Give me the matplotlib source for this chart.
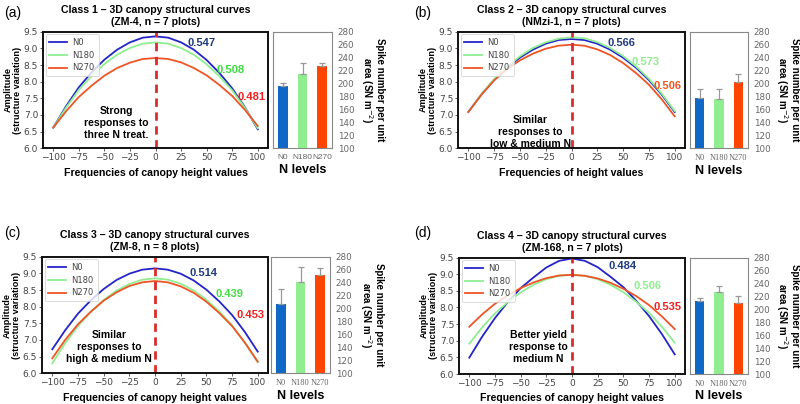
import matplotlib
matplotlib.use('Agg')
import matplotlib.pyplot as plt
from matplotlib.ticker import MultipleLocator, FormatStrFormatter

# frequencies of canopy height values (x of the structural curves)
freq = [-100, -87.5, -75, -62.5, -50, -37.5, -25, -12.5, 0,
        12.5, 25, 37.5, 50, 62.5, 75, 87.5, 100]
levels = ['N0', 'N180', 'N270']

# class 1, ZM-4
a_n0 = [6.62, 7.26, 7.83, 8.28, 8.66, 8.96, 9.18, 9.32, 9.36, 9.32, 9.18, 8.96, 8.65, 8.26, 7.80, 7.23, 6.57]
a_n180 = [6.62, 7.22, 7.75, 8.17, 8.53, 8.81, 9.01, 9.14, 9.18, 9.14, 9.01, 8.81, 8.52, 8.16, 7.74, 7.21, 6.60]
a_n270 = [6.62, 7.11, 7.54, 7.88, 8.18, 8.41, 8.57, 8.68, 8.71, 8.68, 8.58, 8.41, 8.19, 7.90, 7.57, 7.15, 6.67]
a_spike = [196, 214, 227]
a_err = [5, 18, 5]
a_coef = ['0.547', '0.508', '0.481']

# class 2, NMzi-1
b_n0 = [7.09, 7.61, 8.05, 8.42, 8.72, 8.96, 9.14, 9.25, 9.28, 9.25, 9.14, 8.96, 8.72, 8.42, 8.05, 7.61, 7.09]
b_n180 = [7.09, 7.62, 8.08, 8.45, 8.76, 9.01, 9.18, 9.29, 9.33, 9.30, 9.19, 9.01, 8.77, 8.46, 8.09, 7.64, 7.12]
b_n270 = [7.09, 7.60, 8.04, 8.38, 8.64, 8.84, 8.99, 9.08, 9.11, 9.08, 8.97, 8.80, 8.56, 8.26, 7.91, 7.47, 6.96]
b_spike = [177, 176, 202]
b_err = [15, 16, 13]
b_coef = ['0.566', '0.573', '0.506']

# class 3, ZM-8
c_n0 = [6.72, 7.29, 7.79, 8.19, 8.53, 8.80, 8.99, 9.11, 9.15, 9.11, 8.99, 8.79, 8.51, 8.16, 7.75, 7.24, 6.65]
c_n180 = [6.30, 6.90, 7.42, 7.84, 8.20, 8.48, 8.68, 8.81, 8.85, 8.81, 8.69, 8.49, 8.21, 7.86, 7.44, 6.92, 6.33]
c_n270 = [6.45, 7.00, 7.47, 7.85, 8.18, 8.43, 8.62, 8.73, 8.77, 8.73, 8.61, 8.42, 8.15, 7.81, 7.42, 6.92, 6.35]
c_spike = [207, 241, 251]
c_err = [23, 23, 11]
c_coef = ['0.514', '0.439', '0.453']

# class 4, ZM-168
d_n0 = [6.49, 7.12, 7.68, 8.16, 8.58, 8.90, 9.20, 9.40, 9.47, 9.40, 9.21, 8.92, 8.61, 8.20, 7.74, 7.20, 6.59]
d_n180 = [6.91, 7.40, 7.82, 8.16, 8.45, 8.68, 8.85, 8.95, 8.98, 8.95, 8.85, 8.68, 8.46, 8.17, 7.84, 7.42, 6.94]
d_n270 = [7.42, 7.79, 8.11, 8.36, 8.58, 8.75, 8.88, 8.96, 8.98, 8.95, 8.87, 8.74, 8.56, 8.34, 8.07, 7.73, 7.35]
d_spike = [213, 227, 209]
d_err = [5, 9, 11]
d_coef = ['0.484', '0.506', '0.535']

line_colors = ['#2424c8', '#90ee90', '#ee5526']
bar_colors = ['#1068c6', '#90ee90', '#ff4500']
navy = '#1f3a7e'
SANS = ['Liberation Sans', 'DejaVu Sans']

W, H = 800, 404


def rect(l, r, t, b):
    return [l / W, 1 - b / H, (r - l) / W, (b - t) / H]


def panel(fig, main_box, bar_box, curves, spike, err, coefs, coef_pos, coef_colors,
          title, xlabel, note, note_pos, letter, letter_xy, serif, spike_label_x):
    ax = fig.add_axes(rect(*main_box))
    for ys, lab, col in zip(curves, levels, line_colors):
        ax.plot(freq, ys, color=col, lw=1.3, label=lab)
    ax.axvline(0, color='#dd2a2a', ls=(0, (3, 2)), lw=2)
    ax.set_xlim(-110, 110)
    ax.set_ylim(6.0, 9.5)
    ax.xaxis.set_major_locator(MultipleLocator(25))
    ax.yaxis.set_major_locator(MultipleLocator(0.5))
    ax.yaxis.set_major_formatter(FormatStrFormatter('%.1f'))
    ax.tick_params(labelsize=6.5, colors='#444444', length=2, width=0.6, pad=1.5)
    for s in ax.spines.values():
        s.set_linewidth(1.4)
        s.set_color('#111111')
    leg = ax.legend(loc='upper left', fontsize=6.0, frameon=True, handlelength=2.1,
                    borderpad=0.45, labelspacing=0.45, fancybox=True,
                    borderaxespad=0.3, handletextpad=0.7)
    leg.get_frame().set_edgecolor('#cccccc')
    leg.get_frame().set_linewidth(0.6)
    for t in leg.get_texts():
        t.set_color('#444444')
    for txt, (x, y), col in zip(coefs, coef_pos, coef_colors):
        ax.text(x, y, txt, color=col, fontsize=8, fontweight='bold', family=SANS,
                ha='center', va='center')
    ax.text(note_pos[0], note_pos[1], note, fontsize=7.5, fontweight='bold', family=SANS,
            ha='center', va='center', linespacing=1.25)
    ax.set_title(title, fontsize=7.6, fontweight='bold', family=SANS, pad=5,
                 linespacing=1.2)
    ax.set_xlabel(xlabel, fontsize=7.6, fontweight='bold', family=SANS, labelpad=4)
    ax.set_ylabel('Amplitude\n(structure variation)', fontsize=6.6, fontweight='bold',
                  family=SANS, labelpad=1.5, linespacing=1.05)

    bx = fig.add_axes(rect(*bar_box))
    pos = range(len(levels))
    bx.bar(pos, spike, width=0.48, color=bar_colors,
           yerr=[[0, 0, 0], err], ecolor='#999999', capsize=2,
           error_kw={'elinewidth': 0.9, 'capthick': 0.9})
    bx.set_xlim(-0.5, 2.5)
    bx.set_ylim(100, 280)
    bx.yaxis.set_major_locator(MultipleLocator(20))
    bx.yaxis.tick_right()
    bx.set_xticks(list(pos))
    bx.set_xticklabels(levels, family=['Liberation Serif'] if serif else SANS,
                       fontsize=6, color='#666666')
    bx.tick_params(axis='y', labelsize=6.3, colors='#666666', length=0, pad=4)
    bx.tick_params(axis='x', length=0, pad=4)
    for s in bx.spines.values():
        s.set_linewidth(0.8)
        s.set_color('#888888')
    bx.set_xlabel('N levels', fontsize=9, fontweight='bold', family=SANS, labelpad=2)

    yc = (bar_box[2] + bar_box[3]) / 2
    fig.text(spike_label_x / W, 1 - yc / H, 'Spike number per unit\narea (SN m$^{-2}$)',
             fontsize=7.0, fontweight='bold', family=SANS, rotation=270,
             ha='center', va='center', linespacing=1.1)

    fig.text(letter_xy[0] / W, 1 - letter_xy[1] / H, letter, fontsize=10,
             family=SANS, ha='left', va='center')


fig = plt.figure(figsize=(8, 4.04), dpi=100)

panel(fig, (43, 268, 31.7, 148.3), (273, 332, 31.7, 148.3),
      [a_n0, a_n180, a_n270], a_spike, a_err, a_coef,
      [(45, 9.17), (73, 8.35), (94, 7.55)], [navy, '#3ddc3d', '#ee2020'],
      'Class 1 \u2013 3D canopy structural curves\n(ZM-4, n = 7 plots)',
      'Frequencies of canopy height values',
      'Strong\nresponses to\nthree N treat.', (-38, 6.76), '(a)', (4, 13), False, 372)

panel(fig, (458, 685, 31.7, 148.3), (690, 748, 31.7, 148.3),
      [b_n0, b_n180, b_n270], b_spike, b_err, b_coef,
      [(48, 9.15), (72, 8.58), (93, 7.88)], [navy, '#90ee90', '#f05424'],
      'Class 2 \u2013 3D canopy structural curves\n(NMzi-1, n = 7 plots)',
      'Frequencies of height values',
      'Similar\nresponses to\nlow & medium N', (-40, 6.48), '(b)', (414, 13), True, 787)

panel(fig, (42, 268, 256.7, 373.3), (271, 330, 256.7, 373.3),
      [c_n0, c_n180, c_n270], c_spike, c_err, c_coef,
      [(47.5, 9.0), (72.8, 8.37), (92.6, 7.75)], [navy, '#44dd44', '#ee2222'],
      'Class 3 \u2013 3D canopy structural curves\n(ZM-8, n = 8 plots)',
      'Frequencies of canopy height values',
      'Similar\nresponses to\nhigh & medium N', (-44.7, 6.8), '(c)', (4, 233), True, 371)

panel(fig, (459, 685, 257.5, 374), (690, 748, 257.5, 374),
      [d_n0, d_n180, d_n270], d_spike, d_err, d_coef,
      [(49.5, 9.25), (73.6, 8.63), (92.5, 8.02)], [navy, '#90ee90', '#ee2222'],
      'Class 4 \u2013 3D canopy structural curves\n(ZM-168, n = 7 plots)',
      'Frequencies of canopy height values',
      'Better yield\nresponse to\nmedium N', (-32.7, 6.81), '(d)', (414, 233), True, 787)

fig.savefig('out.png', dpi=100)
